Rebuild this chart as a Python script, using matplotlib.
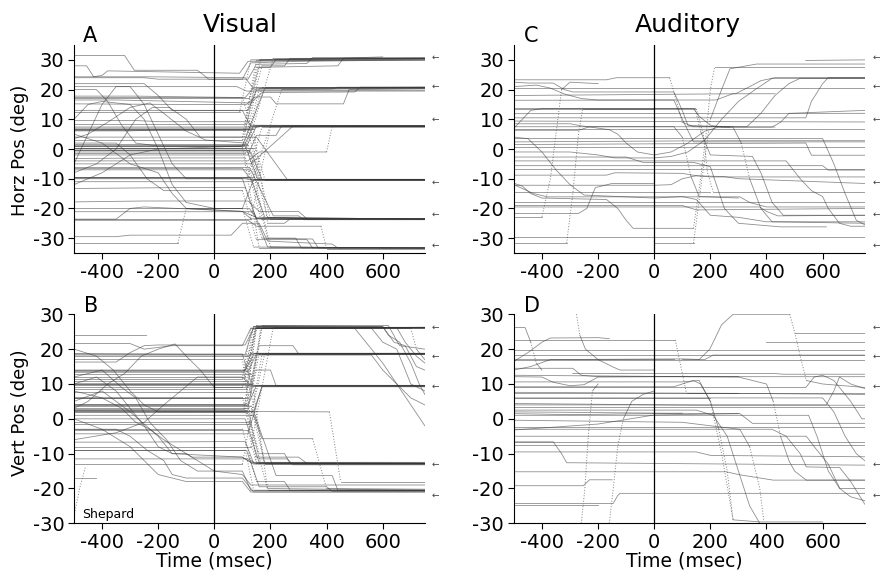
import numpy as np
import matplotlib
matplotlib.use("Agg")
import matplotlib.pyplot as plt
import matplotlib.transforms as mtransforms

plt.rcParams["font.family"] = ["DejaVu Sans"]
plt.rcParams["axes.unicode_minus"] = False

# eye traces: flat list of (time ms, position deg) breakpoints per trial
visual_horz = [
    [-500, 31.5, -320, 31.5, -285, 26.5, -60, 26.5, -20, 23.5, 120, 23.5, 150, 28.5, 330, 28.8, 350, 30.8, 750, 30.8],
    [-500, 28, -455, 28, -430, 24.3, -400, 24.8, -380, 26.3, 90, 25.5, 120, 29.5, 750, 30.3],
    [-500, 24.3, -230, 24.3, 110, 24, 140, 20.2, 420, 20.2, 440, 20.8, 750, 20.8],
    [-500, 24, -250, 24, -200, 23.5, 100, 23.5, 130, 29, 300, 29.5, 750, 30],
    [-500, 21, -370, 21, 80, 21, 115, 19.5, 750, 19.5],
    [-500, 17.8, -280, 17.8, 110, 17.3, 140, 20.7, 750, 20.7],
    [-500, 17.3, 125, 17.3, 160, 27.5, 440, 28, 460, 30.5, 750, 30.5],
    [-500, 17.5, -300, 17.5, 100, 17.5, 130, 8, 750, 7.8],
    [-500, 16.5, -350, 16.5, 130, 15.5, 170, 19, 500, 19.2, 520, 20.8, 750, 20.8],
    [-500, 15.2, -150, 15, 115, 15, 145, 17.5, 200, 17.5, 220, 15.2, 460, 15.2, 480, 20, 750, 20.3],
    [-500, 12.4, 90, 12.4, 130, 30, 430, 30.5, 600, 31],
    [-500, 9.6, -280, 9.6, -200, 9.2, 120, 9.2, 180, -10.3, 750, -10.3],
    [-500, 7.4, 130, 7.4, 170, 7.8, 750, 7.8],
    [-500, 7, 135, 7, 170, 7.6, 750, 7.6],
    [-500, 6.3, 110, 6.3, 165, 30, 750, 30.4],
    [-500, 6.6, 120, 6.6, 160, -10.2, 750, -10.2],
    [-500, 6.1, -300, 6.1, -200, 6.4, 125, 6.4, 160, 20.4, 750, 20.4],
    [-500, 3.5, -450, 5, -380, 9, -300, 14, -230, 15.5, -180, 12, -100, 6, -30, 3, 110, 2, 150, 20.5, 750, 20.8],
    [-500, 1.2, 120, 1.2, 190, -23, 350, -23.5, 750, -23.5],
    [-500, 0.4, 100, 0.4, 160, 30, 750, 30.6],
    [-500, -0.4, 120, -0.4, 200, -33, 750, -33.3],
    [-500, 0, 110, 0, 150, 7.7, 750, 7.7],
    [-500, 1.6, 115, 1.6, 170, 20.8, 750, 20.8],
    [-500, -1, 130, -1, 170, -10.3, 750, -10.3],
    [-500, 0.8, 105, 0.8, 140, 7.9, 750, 7.9],
    [-500, -0.2, 125, -0.2, 160, -10.4, 750, -10.4],
    [-500, 0.2, 140, 0.2, 200, -23.7, 750, -23.7],
    [-500, -3.2, -200, -3, 110, -3, 165, -23.5, 750, -23.5],
    [-500, -6.6, -250, -6.6, 100, -6.5, 130, -10.2, 750, -10.2],
    [-500, -6.2, 125, -6.2, 190, -30, 290, -30, 310, -33.3, 750, -33.3],
    [-500, -9.4, 120, -9.4, 170, 7.5, 750, 7.5],
    [-500, -10, 110, -10, 130, -10.4, 750, -10.4],
    [-500, -9.8, 130, -9.8, 180, -23, 750, -23.6],
    [-500, -13.3, -150, -13, 110, -13, 170, -30, 350, -30.3, 370, -33.3, 750, -33.3],
    [-500, -17.8, -250, -17.5, 120, -17.5, 160, -21, 300, -21, 330, -23.5, 750, -23.5],
    [-500, -21.1, 140, -21.1, 190, -33, 750, -33.3],
    [-500, -23.4, 130, -23.4, 200, 7.5, 750, 7.7],
    [-500, -23.6, -350, -23.6, -300, -20, -250, -19.5, 100, -21, 150, -23, 750, -23.6],
    [-500, -24, -200, -24, 120, -24, 150, -26, 380, -26, 400, -33.5, 750, -33.5],
    [-500, -29.5, -350, -29.5, -300, -29, 60, -29, 100, -25, 160, -25, 190, -31, 420, -32, 440, -33.3, 750, -33.3],
    [-500, -31.7, -130, -31.7, -100, -20, 100, -20, 140, -10.3, 750, -10.3],
    [-500, -5, -450, 5, -400, 15, -350, 21, -300, 21, -250, 15, -200, 5, -150, -5, -100, -10, 100, -10, 150, -23.5, 750, -23.5],
    [-500, -8, -420, -5, -350, 0, -280, 10, -220, 14, -160, 14, -100, 10, -50, 4, 100, 4, 150, 30, 750, 30],
    [-500, 10, -450, 15, -400, 16, -300, 15, -250, 10, -200, 0, -150, -12, -100, -18, 0, -20, 100, -20, 140, -33, 750, -33.3],
    [-500, 5, -400, 2, -300, -5, -200, -8, -150, -15, -100, -20, 100, -21, 130, -23.5, 750, -23.5],
    [-500, -12, -400, -8, -300, -2, -200, 0, 100, 1, 180, 20.5, 750, 20.5],
    [-500, 20, -420, 20, -380, 16, -330, 8, -280, 2, -200, 1, 110, 1, 155, -10.3, 750, -10.3],
    [-500, 2, -350, 2, -300, -2, -240, -10, -180, -14, 100, -14, 150, -30.5, 330, -30.5, 350, -33.3, 750, -33.3],
    [-500, -2, 120, -2, 150, 4.6, 220, 4.6, 240, 7.8, 750, 7.8],
    [-500, -4, 120, -4, 160, -1, 400, -1, 420, 7.6, 750, 7.6],
    [-500, 3, 100, 3, 170, 28, 250, 28, 270, 30.5, 750, 30.5],
    [-500, 8.5, 110, 8.5, 150, 27.5, 200, 27.5, 220, 30.2, 750, 30.2],
    [-500, -7, 130, -7, 210, -22.5, 300, -22.5, 320, -23.8, 750, -23.8],
    [-500, -11, 120, -11, 150, -10.5, 750, -10.5],
    [-500, 13, 120, 13, 150, 19.8, 750, 19.8],
    [-500, -20, 125, -20, 150, -23.4, 750, -23.4],
    [-500, 22, -250, 22, -200, 18, -150, 13, 100, 13, 130, 7.6, 750, 7.6],
    [-500, 1, 100, 1, 160, -33.4, 750, -33.4],
    [-500, -1.5, 110, -1.5, 210, 30.6, 750, 30.6],
    [-500, 6.8, 140, 6.8, 190, -25, 250, -25, 270, -23.5, 520, -23.5],
    [-500, -9.5, 140, -9.5, 240, 20, 750, 20.6],
    [-500, 4, 150, 4, 260, -10.3, 750, -10.3],
    [-500, -5, 130, -5, 280, 7.7, 750, 7.7],
]

visual_vert = [
    [-500, 24, -245, 24],
    [-500, 21.6, -300, 21.6, -250, 20, -150, 21, 100, 21, 130, 26, 750, 26.2],
    [-500, 18.7, -100, 18.5, 110, 18.5, 140, 26.5, 750, 26.2],
    [-500, 18.3, 120, 18.3, 150, 18.8, 750, 18.8],
    [-500, 18.6, 100, 18.6, 135, 9.3, 750, 9.3],
    [-500, 17.2, 100, 17.2, 150, -12.5, 750, -12.8],
    [-500, 16.3, -350, 16.3, -300, 19, -250, 21, -200, 21.2, 110, 21.2, 140, 26, 750, 26.1],
    [-500, 14, 110, 14, 140, 26.5, 600, 26.5, 640, 22, 680, 21, 720, 15, 750, 14],
    [-500, 13.5, 120, 13.5, 150, 18.7, 750, 18.7],
    [-500, 13, 130, 13, 190, -20, 750, -20.5],
    [-500, 11.5, 100, 11.5, 130, 26, 560, 26, 600, 22, 650, 20, 700, 10, 750, 8],
    [-500, 10.1, 120, 10.1, 150, 9.5, 750, 9.5],
    [-500, 9.8, 110, 9.8, 130, 9.4, 750, 9.4],
    [-500, 9.6, 125, 9.6, 180, -12.8, 750, -12.8],
    [-500, 8.6, 115, 8.6, 145, 26.3, 750, 26.3],
    [-500, 7.7, 130, 7.7, 160, 18.6, 750, 18.6],
    [-500, 6.2, 100, 6.2, 150, -11, 300, -11, 330, -12.8, 750, -12.8],
    [-500, 4.3, 110, 4.3, 150, 26.5, 750, 26.5],
    [-500, 4, 120, 4, 150, 9.6, 750, 9.6],
    [-500, 3.8, 130, 3.8, 180, -13, 750, -13],
    [-500, 2.9, 105, 2.9, 140, 19, 750, 19],
    [-500, 2.4, 115, 2.4, 190, -20.3, 750, -20.3],
    [-500, 1.9, 120, 1.9, 165, 26, 750, 26],
    [-500, 2.2, 140, 2.2, 170, 9.2, 750, 9.2],
    [-500, 0, 110, 0, 160, -12.6, 750, -12.6],
    [-500, -1.4, 125, -1.4, 180, 18.9, 750, 18.9],
    [-500, -2.9, 100, -2.9, 150, -18, 250, -18, 270, -20.5, 750, -20.5],
    [-500, -4.3, 120, -4.3, 170, 9.4, 750, 9.4],
    [-500, -6.7, -300, -6.7, 110, -6.5, 140, -12.8, 750, -12.8],
    [-500, -8.1, 130, -8.1, 210, 26.3, 750, 26.3],
    [-500, -9.1, 115, -9.1, 160, -19.5, 400, -19.5, 420, -20.8, 750, -20.8],
    [-500, -11.5, 120, -11.5, 150, -12.9, 750, -12.9],
    [-500, -13, 100, -13, 170, 18.5, 750, 18.5],
    [-500, -17, -420, -17],
    [-500, 5, -400, 8, -300, 2, -200, -5, -150, -10, -100, -10, 0, -15, 100, -16, 130, -19, 750, -19],
    [-500, 0, -400, -3, -300, -8, -250, -12, -200, -16, -100, -18, 100, -18, 130, -21, 750, -21],
    [-500, 10, -420, 12, -350, 8, -300, 3, -250, -2, -200, -8, -150, -10, 100, -11, 140, -13, 750, -13],
    [-500, 12, -400, 14, -330, 9, -280, 6, -230, -1, -170, -6, -120, -12, -60, -15, 100, -15, 130, -20.5, 750, -20.5],
    [-500, 3, -450, 5, -380, 10, -320, 13, -260, 18, -200, 20, -140, 21.5, -100, 18, -50, 14, 0, 9, 100, 9, 150, 26, 750, 26.3],
    [-500, 20, -420, 18, -360, 14, -300, 8, -250, 4, -200, 2, 110, 2, 150, 18.7, 750, 18.7],
    [-500, -6, -350, -4, -250, -1, -180, 4, -120, 8, -60, 12, 100, 12, 130, 9.6, 750, 9.6],
    [-500, 8, -400, 6, -330, 3, -280, -1, -230, -3, -180, -6, -120, -9, -80, -11, 100, -11, 130, -12.5, 750, -12.5],
    [-500, -3, -350, -3, -300, -5, -240, -9, -180, -12, -150, -16, -100, -17, 100, -17, 140, -21, 750, -21],
    [-500, -28, -480, -20, -460, -14],
    [-500, 12, 110, 12, 150, 26.8, 600, 26.5, 620, 24, 660, 22, 700, 16, 730, 10, 750, 7],
    [-500, 18, 120, 18, 150, 26.5, 650, 26.2, 680, 22, 720, 18, 750, 16],
    [-500, 14, 110, 14, 140, 18.3, 560, 18.3, 600, 14, 650, 10, 700, 6, 750, 4],
    [-500, 10, 130, 10, 170, 26, 500, 26, 540, 22, 600, 16, 650, 10, 700, 4, 750, -2],
    [-500, 6, 120, 6, 160, 21, 280, 21, 300, 18.7, 750, 18.7],
    [-500, 3, 120, 3, 170, 26.8, 620, 26.8, 660, 21, 750, 20],
    [-500, -1, 130, -1, 160, -10, 250, -10, 270, -12.8, 750, -12.8],
    [-500, 2, 140, 2, 220, -16.3, 420, -16.3, 440, -20.5, 750, -20.5],
    [-500, 1, 140, 1, 170, -5.7, 350, -5.7, 400, -20, 750, -20.2],
    [-500, 2.3, 410, 2, 450, -18, 750, -18],
    [-500, 9, 120, 9, 150, 26, 700, 26, 720, 20, 750, 17],
    [-500, 4, 120, 4, 150, 14, 200, 14, 220, 9.5, 750, 9.5],
    [-500, -3.3, 120, -3.3, 150, -12.8, 750, -12.8],
    [-500, -9, 110, -9, 140, -20.5, 750, -20.5],
    [-500, 13.4, 105, 13.4, 130, 18.8, 750, 18.8],
    [-500, 11, 115, 11, 145, 26.2, 750, 26.2],
    [-500, 6, 110, 6, 160, -11.5, 260, -11.5, 280, -13.2, 750, -13.2],
]

auditory_horz = [
    [-500, 23.3, -170, 23.3, -135, 24, 55, 24, 80, 16, 100, 9, 140, 7.5, 330, 7.5, 380, 12, 430, 18, 480, 22, 520, 23.8, 750, 23.8],
    [-500, 22.5, -450, 22.2, -360, 22.2, -320, 20, -290, 19.2, 70, 19.2, 100, 13, 120, 8, 270, 7.3],
    [-500, 21, -420, 21.5, -370, 20.5, -320, 18.5, -260, 17, -200, 16.5, 70, 16.5, 100, 10, 140, 2.4, 750, 2.4],
    [-500, 13.5, 150, 13.5, 175, 5, 190, -8, 210, -14.4, 750, -14.4],
    [-500, 13.8, 145, 13.8, 165, 6, 200, -2, 350, -2.5, 380, -8, 420, -18, 460, -22.3, 750, -22.3],
    [-500, 7, -470, 10, -440, 13, -400, 13.6, 140, 13.6, 160, 11, 200, 8, 240, 7.4, 420, 7.4, 450, 9, 480, 12, 750, 13],
    [-500, 8.5, -300, 8.5, -260, 7.8, -160, 6.5, -130, 5, -100, 2, -60, -1, 0, -2, 60, -1, 120, 2, 180, 6, 230, 7.4, 430, 7.4],
    [-500, 6.8, 750, 6.8],
    [-500, 6.3, -270, 6.3, -230, 7.5, 70, 7.5, 100, 4, 130, -9, 160, -16, 300, -16.5],
    [-500, 2.4, 270, 2.8, 750, 2.8],
    [-500, 0.7, 750, 0.7],
    [-500, -1, -300, -1, -200, -2, -140, -3, 0, -3, 60, -2.5, 120, -1, 180, 3, 240, 10, 300, 16, 360, 20, 420, 23.8, 750, 23.8],
    [-500, -6.6, 750, -6.6],
    [-500, -8.8, -170, -8.8, -140, -8, 100, -8.2, 150, -9, 200, -9.4, 750, -9.4],
    [-500, -12.2, 0, -12.2, 60, -12, 100, -10, 150, -9, 250, -9.3, 300, -10, 750, -11.6],
    [-500, -14.4, 200, -14.4],
    [-500, -12, -430, -15, -380, -16.1, 305, -16.1, 340, -18, 400, -19.5, 750, -19.5],
    [-500, -17.8, 750, -17.8],
    [-500, -19.5, 376, -19.5, 400, -21, 440, -22.5, 750, -22.3],
    [-500, -21.7, -270, -21.7, -240, -20, -210, -13, -150, -11.6, 0, -11.6],
    [-500, -22.8, -400, -22.8, -370, -10, -350, 5, -330, 20, -300, 22.5, -200, 22],
    [-500, -31.7, -312, -31.7, -290, -15, -270, 5, -255, 13.5, 0, 13.5],
    [-500, -11.5, -470, -12.5, -440, -15, -400, -16.5, -170, -17, -130, -20, -100, -24, -75, -26.7, 140, -26.7, 165, -10, 185, 5, 200, 20, 215, 27.5, 750, 27.5],
    [0, -31.7, 140, -31.7, 170, -10, 200, 10, 240, 20, 270, 27, 365, 28.6, 750, 28.6],
    [-500, 4, -450, 3.5, -400, -1, -350, -7, -300, -12, -250, -15.5, 0, -16.5, 100, -16, 150, -17, 200, -22.3, 300, -23, 400, -24.5, 750, -24.5],
    [-500, 7.5, 280, 7.5, 310, 2, 340, -10, 380, -20, 420, -24.5, 750, -25],
    [-500, -2.7, -100, -2.7, -40, -4.5, 140, -4.5, 200, -6, 250, -20, 300, -25, 450, -26.2, 613, -26.2],
    [-500, 18, 290, 18.6, 330, 20.5, 380, 23, 430, 24, 750, 24],
    [-500, 16.4, 220, 16.5, 280, 18.6, 430, 18.6],
    [-500, 11.9, 750, 12],
    [-500, 9.4, 750, 9.1],
    [-500, 1.5, 540, 2, 560, -2.1, 750, -2.1],
    [-500, -5.6, 600, -5.6, 620, -7.1, 750, -7.1],
    [-500, -19, 100, -19, 150, -20.5, 750, -20],
    [-500, -4, 470, -4, 520, -10, 560, -14, 600, -16, 620, -20, 660, -25, 700, -26, 750, -26],
    [-500, 10.5, 540, 10.5, 560, 16, 600, 22, 620, 24, 750, 24],
    [-500, 20.6, 750, 20.6],
    [-500, 3.5, 600, 3.5, 640, -5, 680, -15, 720, -24, 750, -25.5],
    [540, 29.8, 750, 30],
    [-500, -29.5, 750, -29.5],
]

auditory_vert = [
    [-500, 26.2, -460, 26.2, -440, 22, -420, 16, -400, 14],
    [-500, 22.6, 75, 22.6, 95, 15, 115, 7.3, 300, 7.3],
    [-500, 16.5, -450, 19, -400, 22, -370, 23.2, -200, 23.3, -160, 23],
    [-500, 19.7, 750, 19.7],
    [-500, 17.2, 70, 17.2],
    [-500, 14, -440, 15, -370, 17, 100, 17.2, 180, 17, 210, 18.3, 750, 18.3],
    [-500, 14.5, -290, 14.5, -260, 12.5, -200, 12.1, 750, 12.1],
    [-290, 13, 430, 13, 460, 12.8, 750, 12.8],
    [-500, 12.1, -400, 12, -360, 10.5, -300, 9.5, -250, 9.8, -200, 12, 0, 12.1, 300, 12.1],
    [-500, 9.2, 70, 9.2, 100, 10, 140, 11, 165, 10, 200, 5, 230, -3, 260, -15, 281, -29],
    [-500, 7.3, 750, 7.3],
    [-500, 7.6, 300, 7.3, 750, 7],
    [-500, 5.9, 200, 5.9],
    [-500, 4.4, 150, 3.9, 750, 3.9],
    [-500, 3.5, 750, 3.5],
    [-500, 2, 200, 1.5, 300, 1.5],
    [-500, 1.5, -300, 1.2, 100, 1.6],
    [-500, -0.4, 100, -1, 200, -2, 305, -3, 340, -8, 376, -20, 390, -29],
    [-500, -3.2, -200, -1.5, 0, 1.1, 305, 1.5, 350, -1.3, 750, -1.3],
    [-500, -6.6, 750, -6.6],
    [-500, -7.6, 750, -7.6],
    [-500, -9.5, 150, -9.5, 200, -10.5, 750, -10.9],
    [-500, -6.6, -360, -6.6, -330, -10, -312, -12.6, 300, -13, 750, -13.3],
    [-500, -19.2, -253, -19.2, -230, -17.5, -150, -17.5],
    [-500, -24.3, -146, -24.3, -130, -22, -122, -21.4, 750, -21.4],
    [-500, -24.8, -200, -24.8],
    [-277, 30, -265, 24, -245, 20, -200, 17, -150, 15, -122, 14, 0, 14],
    [-260, -30, -247, -20, -235, -5, -220, 8, -200, 10],
    [-160, -30, -146, -20, -130, -8, -110, 0, -80, 5, -40, 7, 0, 8],
    [100, 17, 160, 17, 198, 20, 240, 27, 281, 30, 483, 30, 500, 25, 520, 18, 542, 11, 600, 10, 750, 9],
    [-500, 10.6, 100, 10.6, 160, 11, 200, 5, 240, -10, 281, -29, 376, -29.6, 600, -29.6],
    [-500, 2.5, 150, 2.5, 210, 1, 260, -5, 300, -15, 340, -25, 376, -30],
    [-500, 12.5, 300, 12, 400, 10, 424, 5, 450, -5, 480, -12, 500, -15, 542, -17.6, 750, -17.6],
    [-500, -3, 420, -3, 470, -5, 520, -10, 542, -13.8, 661, -14, 700, -18, 750, -24.5],
    [-500, 18.3, 750, 18.3],
    [-500, 16.9, 750, 16.9],
    [400, 22.1, 750, 22.1],
    [500, 24.5, 750, 24.5],
    [-500, 4, 613, 4, 640, 8, 660, 12, 700, 10, 750, 8.7],
    [-500, 1, 550, 1, 580, -5, 620, -15, 661, -20, 700, -22.4, 750, -23.5],
    [-500, -2.3, 750, -2.3],
    [-500, -5, 542, -5, 570, -8, 620, -13, 661, -20, 750, -20],
    [-500, -15.2, 257, -15.2, 300, -16, 424, -17.6, 750, -17.6],
    [-500, 9, 540, 9, 570, 12, 600, 12.5, 640, 11, 700, 5, 740, 0, 750, 0],
    [-500, 6, 600, 6, 640, 2, 680, -5, 720, -10, 750, -12],
]

# target markers (arrows on the right)
targets_horz = [31, 21, 10, -11, -22, -32.5]
targets_vert = [26.4, 18, 9.4, -13, -22]

xticks = [-400, -200, 0, 200, 400, 600]
yticks = [-30, -20, -10, 0, 10, 20, 30]


def draw_trace(ax, pts):
    t = np.array(pts[0::2], dtype=float)
    y = np.array(pts[1::2], dtype=float)
    fast = np.abs(np.diff(y) / np.diff(t)) > 0.28
    i = 0
    while i < len(fast):
        j = i
        while j + 1 < len(fast) and fast[j + 1] == fast[i]:
            j += 1
        if fast[i]:
            ax.plot(t[i:j + 2], y[i:j + 2], color="0.5", lw=0.7, ls=(0, (1, 1.8)))
        else:
            ax.plot(t[i:j + 2], y[i:j + 2], color="0.2", lw=0.6, alpha=0.55)
        i = j + 1


def setup(ax, traces, ylim, targets, arrow_x):
    for tr in traces:
        draw_trace(ax, tr)
    ax.axvline(0, color="k", lw=0.9)
    ax.set_xlim(-500, 750)
    ax.set_ylim(*ylim)
    ax.set_xticks(xticks)
    ax.set_yticks(yticks)
    ax.spines["top"].set_visible(False)
    ax.spines["right"].set_visible(False)
    ax.tick_params(direction="out", length=4, width=0.8, labelsize=14, pad=3)
    trans = mtransforms.blended_transform_factory(ax.transAxes, ax.transData)
    for v in targets:
        ax.text(arrow_x, v, "\u2190", transform=trans, fontsize=6.5, color="0.25",
                ha="center", va="center", clip_on=False)


fig = plt.figure(figsize=(8.86, 5.72), dpi=100)
axA = fig.add_axes([0.0835, 0.5577, 0.396, 0.3636])
axC = fig.add_axes([0.580, 0.5577, 0.396, 0.3636])
axB = fig.add_axes([0.0835, 0.0851, 0.396, 0.3654])
axD = fig.add_axes([0.580, 0.0851, 0.396, 0.3654])

setup(axA, visual_horz, (-35, 35), targets_horz, 1.031)
setup(axC, auditory_horz, (-35, 35), targets_horz, 1.034)
setup(axB, visual_vert, (-30, 30), targets_vert, 1.031)
setup(axD, auditory_vert, (-30, 30), targets_vert, 1.034)

fig.text(0.271, 0.956, "Visual", fontsize=18, ha="center", va="center")
fig.text(0.7765, 0.956, "Auditory", fontsize=18, ha="center", va="center")
fig.text(0.1016, 0.937, "A", fontsize=15, ha="center", va="center")
fig.text(0.600, 0.937, "C", fontsize=15, ha="center", va="center")
fig.text(0.103, 0.465, "B", fontsize=15, ha="center", va="center")
fig.text(0.600, 0.465, "D", fontsize=15, ha="center", va="center")
fig.text(0.0226, 0.738, "Horz Pos (deg)", fontsize=13, rotation=90, ha="center", va="center")
fig.text(0.0226, 0.278, "Vert Pos (deg)", fontsize=13, rotation=90, ha="center", va="center")
fig.text(0.2416, 0.019, "Time (msec)", fontsize=13.5, ha="center", va="center")
fig.text(0.772, 0.019, "Time (msec)", fontsize=13.5, ha="center", va="center")
axB.text(-470, -28.5, "Shepard", fontsize=9)

fig.savefig("out.png", dpi=100)
